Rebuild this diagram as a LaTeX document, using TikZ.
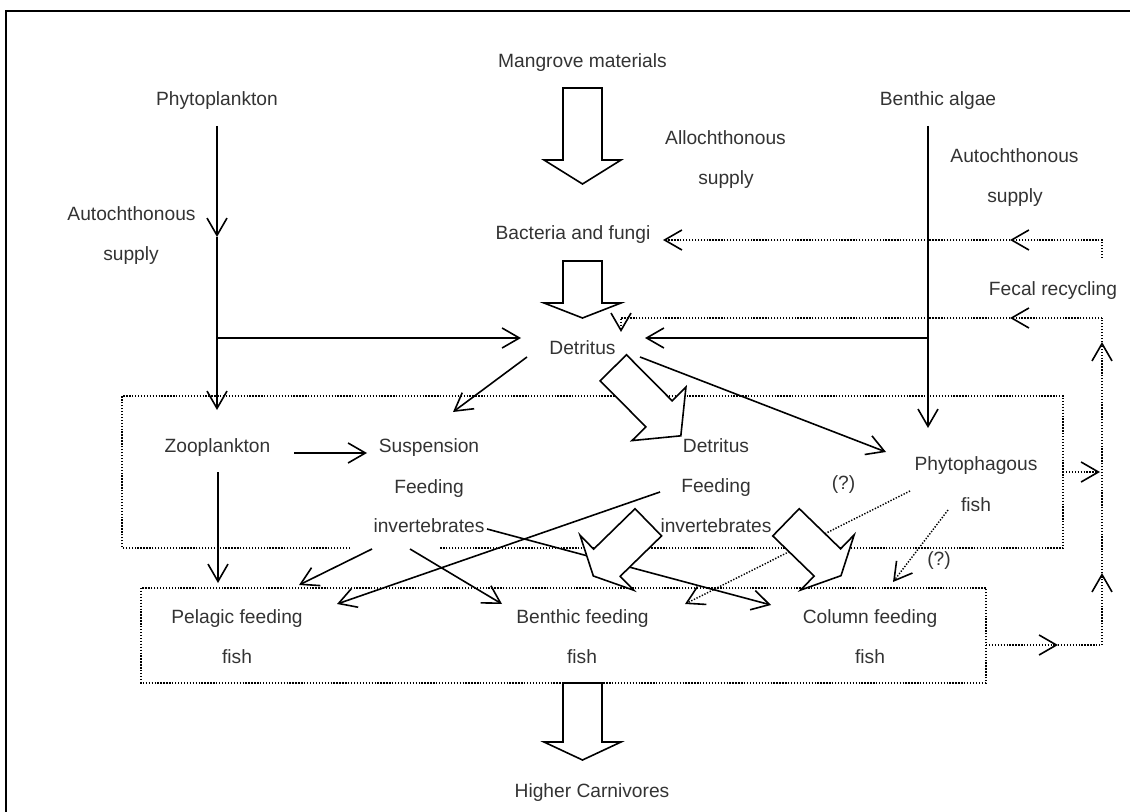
\documentclass[tikz,border=0pt]{standalone}
\usepackage{fontspec}
\setmainfont{Liberation Sans}
\usetikzlibrary{arrows.meta}
\tikzset{
  lbl/.style={anchor=base, font=\fontsize{14.4}{17}\selectfont, text=black!80, inner sep=0pt},
  conn/.style={line width=1.2pt, -{Straight Barb[length=13pt,width=15pt]}},
  solidline/.style={line width=1.2pt},
  dotline/.style={line width=1.1pt, dash pattern=on 1pt off 1.2pt},
  dotconn/.style={dotline, -{Straight Barb[length=13pt,width=15pt,line width=1.2pt]}},
  fatstyle/.style={line width=1.2pt, fill=white, line join=miter},
}
% hollow block arrow: x1 y1 x2 y2 bodyhalf headhalf headlength (pixel units)
\newcommand\fatarrow[7]{%
  \pgfmathsetmacro\faAng{atan2(#2-#4,#3-#1)}%
  \pgfmathsetmacro\faLen{veclen(#3-#1,#4-#2)}%
  \pgfmathsetmacro\faBase{\faLen-#7}%
  \draw[fatstyle, shift={(#1,#2)}, rotate=\faAng]
    (0,-#5) -- (\faBase,-#5) -- (\faBase,-#6) -- (\faLen,0) -- (\faBase,#6)
    -- (\faBase,#5) -- (0,#5) -- cycle;}
\begin{document}
\begin{tikzpicture}[x=0.75pt,y=-0.75pt]
\useasboundingbox (0,0) rectangle (1130,812);
% outer frame
\draw[line width=1.4pt] (6,812) -- (6,11) -- (1130,11);

% ---------- coordinates ----------
\coordinate (phS) at (217,126);
\coordinate (phM) at (217,237);
\coordinate (phJ) at (217,338);
\coordinate (zooT) at (217,410);
\coordinate (detL) at (521,338);
\coordinate (baS) at (928,126);
\coordinate (baJ) at (928,338);
\coordinate (phyfT) at (928,428);
\coordinate (detR) at (645,338);
\coordinate (detSW) at (527,357);
\coordinate (suspT) at (453,412);
\coordinate (detSE) at (640,357);
\coordinate (phyfL) at (886,452);
\coordinate (zooR) at (294,453);
\coordinate (suspL) at (367,453);
\coordinate (zooB) at (218,472);
\coordinate (pelT) at (218,583);
\coordinate (suspB1) at (372,549);
\coordinate (pelT2) at (299,585);
\coordinate (suspB2) at (410,549);
\coordinate (benT1) at (502,604);
\coordinate (dfL) at (660,492);
\coordinate (pelT3) at (337,604);
\coordinate (suspR) at (487,529);
\coordinate (colT1) at (771,605);
\coordinate (phyfA) at (910,491);
\coordinate (benT2) at (685,604);
\coordinate (phyfB) at (948,510);
\coordinate (colT2) at (893,582);
\coordinate (fcA) at (1102,258);
\coordinate (fcB) at (1102,240);
\coordinate (fcM) at (1010,240);
\coordinate (bactR) at (663,240);
\coordinate (frA) at (1102,318);
\coordinate (frM) at (1010,318);
\coordinate (frB) at (621,318);
\coordinate (detT) at (621,332);
\coordinate (vB) at (1102,645);
\coordinate (vM1) at (1102,573);
\coordinate (vM2) at (1102,342);
\coordinate (b1R) at (1063,472);
\coordinate (b1RT) at (1100,472);
\coordinate (b2R) at (986,645);
\coordinate (b2M) at (1058,645);

% ---------- dotted boxes ----------
\draw[dotline] (350,548) -- (122,548) -- (122,396) -- (1063,396) -- (1063,548) -- (440,548);
\draw[dotline] (141,588) rectangle (986,683);

% ---------- solid connectors ----------
\draw[conn] (phS) -- (phM);
\draw[conn] (phM) -- (zooT);
\draw[conn] (phJ) -- (detL);
\draw[conn] (baS) -- (phyfT);
\draw[conn] (baJ) -- (detR);
\draw[conn] (detSW) -- (suspT);
\draw[conn] (detSE) -- (phyfL);
\draw[conn] (zooR) -- (suspL);
\draw[conn] (zooB) -- (pelT);
\draw[conn] (suspB1) -- (pelT2);
\draw[conn] (suspB2) -- (benT1);
\draw[conn] (dfL) -- (pelT3);
\draw[conn] (suspR) -- (colT1);

% ---------- dotted connectors ----------
\draw[dotconn] (phyfA) -- (benT2);
\draw[dotconn] (phyfB) -- (colT2);
\draw[dotconn] (fcA) -- (fcB) -- (fcM);
\draw[dotconn] (fcM) -- (bactR);
\draw[dotconn] (frA) -- (frM);
\draw[dotconn] (frM) -- (frB) -- (detT);
\draw[dotconn] (vB) -- (vM1);
\draw[dotconn] (vM1) -- (vM2);
\draw[dotline] (vM2) -- (frA);
\draw[dotconn] (b1R) -- (b1RT);
\draw[dotconn] (b2R) -- (b2M);
\draw[dotline] (b2M) -- (vB);

% ---------- hollow block arrows ----------
\fatarrow{582.5}{88}{582.5}{184}{19.5}{38.5}{24}
\fatarrow{582.5}{261}{582.5}{318}{19.5}{38.5}{15}
\fatarrow{613.3}{367.8}{681}{436}{18.5}{38}{31}
\fatarrow{648.3}{522.3}{593.3}{576}{19}{38.5}{19}
\fatarrow{786}{522.3}{841}{575.7}{19}{38.5}{19}
\fatarrow{582.5}{683}{582.5}{760}{19.5}{38.5}{18}

% ---------- labels ----------
\node[lbl] (mang) at (582.5,68) {Mangrove materials};
\node[lbl] (phyto) at (217,106) {Phytoplankton};
\node[lbl] (benth) at (938,106) {Benthic algae};
\node[lbl] (allo1) at (725.5,145) {Allochthonous};
\node[lbl] (allo2) at (726,185) {supply};
\node[lbl] (autoL1) at (131.5,221) {Autochthonous};
\node[lbl] (autoL2) at (131,261) {supply};
\node[lbl] (autoR1) at (1014.5,163) {Autochthonous};
\node[lbl] (autoR2) at (1015,203) {supply};
\node[lbl] (bact) at (573,240) {Bacteria and fungi};
\node[lbl] (fecal) at (1053,296) {Fecal recycling};
\node[lbl] (det) at (582.5,354) {Detritus};
\node[lbl] (zoo) at (217.5,452) {Zooplankton};
\node[lbl] (susp1) at (429,452) {Suspension};
\node[lbl] (susp2) at (429,493) {Feeding};
\node[lbl] (susp3) at (429,532) {invertebrates};
\node[lbl] (df1) at (716,452) {Detritus};
\node[lbl] (df2) at (716,492) {Feeding};
\node[lbl] (df3) at (716,532) {invertebrates};
\node[lbl] (phyf1) at (976,470) {Phytophagous};
\node[lbl] (phyf2) at (976,511) {fish};
\node[lbl] (q1) at (843.5,489) {(?)};
\node[lbl] (q2) at (939,565) {(?)};
\node[lbl] (pel1) at (237,623) {Pelagic feeding};
\node[lbl] (pel2) at (237,663) {fish};
\node[lbl] (ben1) at (582.5,623) {Benthic feeding};
\node[lbl] (ben2) at (582,663) {fish};
\node[lbl] (col1) at (870,623) {Column feeding};
\node[lbl] (col2) at (870,663) {fish};
\node[lbl] (higher) at (592,797) {Higher Carnivores};
\end{tikzpicture}
\end{document}
